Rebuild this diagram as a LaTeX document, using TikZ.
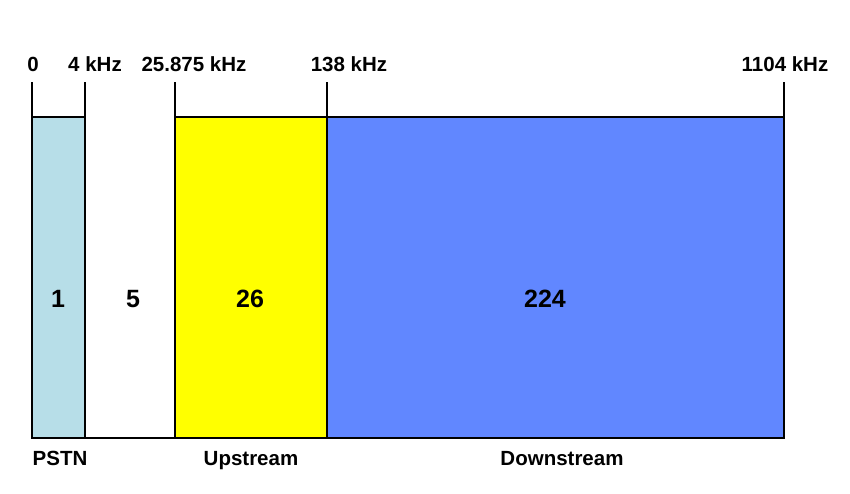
\documentclass[tikz,border=0pt]{standalone}
\usepackage{fontspec}
\setmainfont{Liberation Sans}
\definecolor{pstn}{RGB}{183,222,232}
\definecolor{up}{RGB}{255,255,0}
\definecolor{down}{RGB}{97,135,255}
\begin{document}
\begin{tikzpicture}[x=1pt,y=-1pt,
  edge/.style={line width=2.8pt,black},
  toplbl/.style={font=\fontsize{20.5}{20.5}\selectfont\bfseries,inner sep=0pt,anchor=base},
  numlbl/.style={font=\fontsize{25}{25}\selectfont\bfseries,inner sep=0pt,anchor=base}]
\useasboundingbox[fill=white] (0,0) rectangle (850,493);
% fills
\fill[pstn] (32,117) rectangle (85,438);
\fill[up] (175,117) rectangle (327,438);
\fill[down] (327,117) rectangle (784,438);
% vertical lines
\draw[edge] (32,82) -- (32,438);
\draw[edge] (85,82) -- (85,438);
\draw[edge] (175,82) -- (175,438);
\draw[edge] (327,82) -- (327,438);
\draw[edge] (784,82) -- (784,438);
% horizontal lines
\draw[edge] (32,117) -- (85,117);
\draw[edge] (175,117) -- (784,117);
\draw[edge,line cap=rect] (32,438) -- (784,438);
% top labels
\node[toplbl] (f0) at (33,71) {0};
\node[toplbl] (f4) at (95,71) {4 kHz};
\node[toplbl] (f25) at (194,71) {25.875 kHz};
\node[toplbl] (f138) at (349,71) {138 kHz};
\node[toplbl] (f1104) at (785,71) {1104 kHz};
% numbers
\node[numlbl] (n1) at (58,307) {1};
\node[numlbl] (n5) at (133,307) {5};
\node[numlbl] (n26) at (250,307) {26};
\node[numlbl] (n224) at (545,307) {224};
% bottom labels
\node[toplbl] (pstn) at (60,465) {PSTN};
\node[toplbl] (ups) at (251,465) {Upstream};
\node[toplbl] (downs) at (562,465) {Downstream};
\end{tikzpicture}
\end{document}
